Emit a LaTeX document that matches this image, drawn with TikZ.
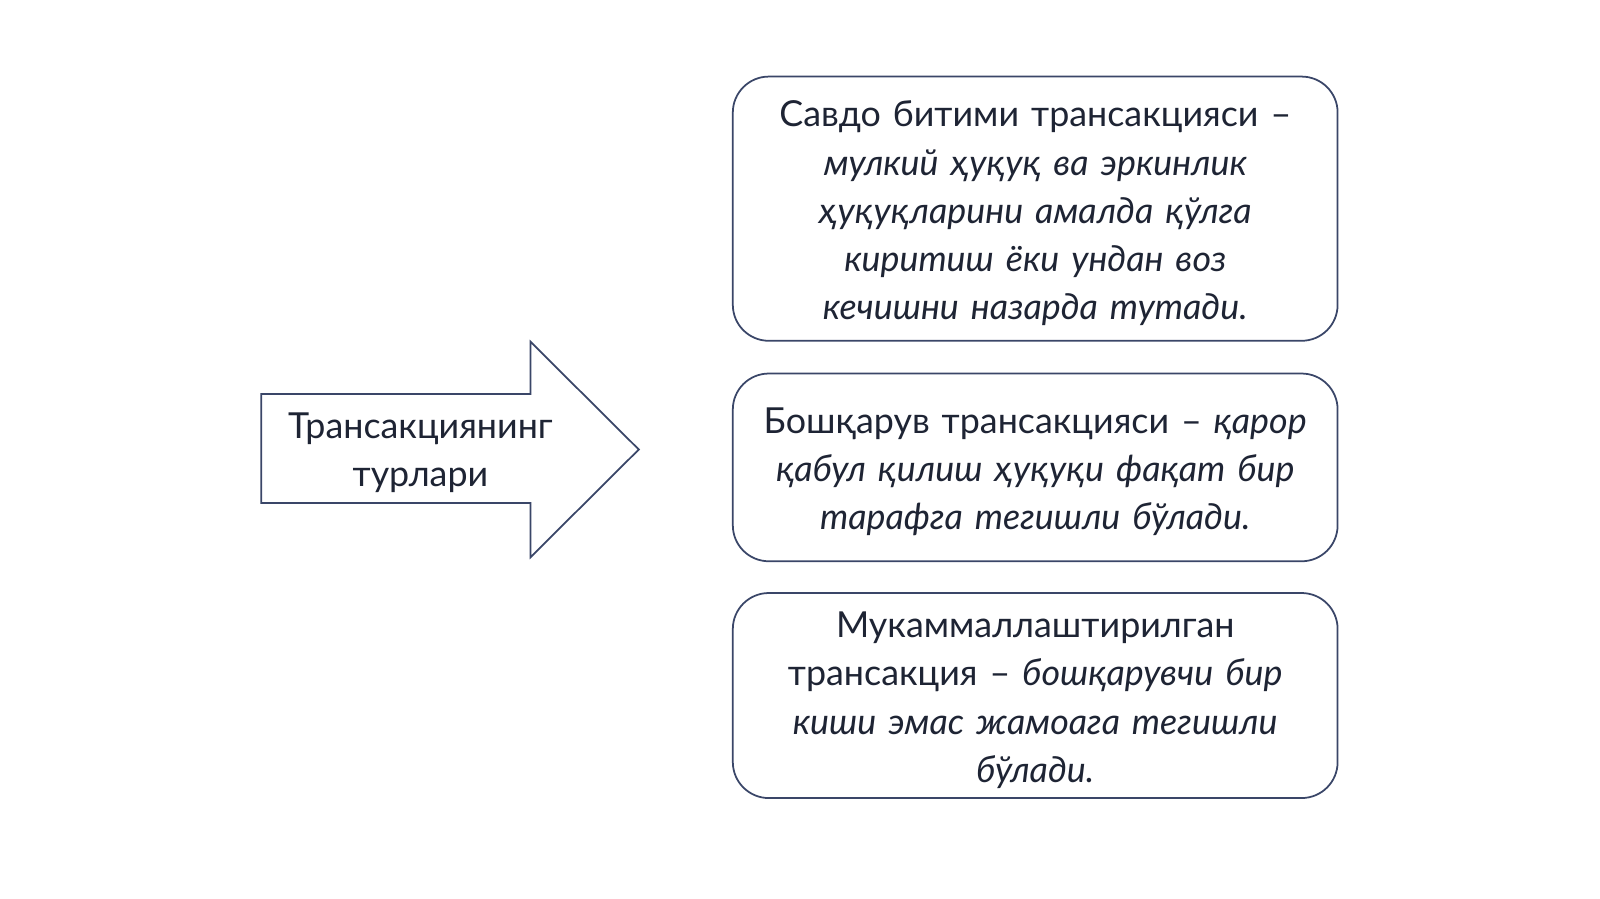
\documentclass[tikz,border=0pt]{standalone}
\usepackage{fontspec}
\setmainfont{Lato}
\usetikzlibrary{positioning}
\definecolor{lineblue}{HTML}{3A4668}
\definecolor{textdark}{HTML}{1E2434}

\begin{document}
\begin{tikzpicture}[x=0.0102041cm,y=-0.0102041cm,
    txt/.style={text=textdark,font=\fontsize{10.2}{13.7}\selectfont},
    kind/.style={txt,draw=lineblue,line width=0.5pt,rounded corners=0.36cm,
                 minimum width=6.05cm,text width=5.95cm,align=center,inner sep=0pt,
                 execute at begin node={\rule{0pt}{10pt}}},
    bigarrow/.style={draw=lineblue,line width=0.5pt}]
    \useasboundingbox[fill=white] (0,0) rectangle (1568,881);

    \node[kind,minimum height=2.643cm] (trade) at (1014.5,204.5)
        {Савдо битими трансакцияси –\\ \textit{мулкий ҳуқуқ ва эркинлик\\ ҳуқуқларини амалда қўлга\\ киритиш ёки ундан воз\\ кечишни назарда тутади.}};
    \node[kind,minimum height=1.878cm,below=0.31cm of trade] (manage)
        {Бошқарув трансакцияси – \textit{қарор\\ қабул қилиш ҳуқуқи фақат бир\\ тарафга тегишли бўлади.}};
    \node[kind,minimum height=2.051cm,below=0.30cm of manage] (perfect)
        {Мукаммаллаштирилган\\ трансакция – \textit{бошқарувчи бир\\ киши эмас жамоага тегишли\\ бўлади.}};

    \draw[bigarrow] (256,386) -- (520,386) -- (520,335) -- (626,440.5)
                    -- (520,546) -- (520,493) -- (256,493) -- cycle;
    \node[txt,align=center] (types) at (412,444) {Трансакциянинг\\ турлари};
\end{tikzpicture}
\end{document}
